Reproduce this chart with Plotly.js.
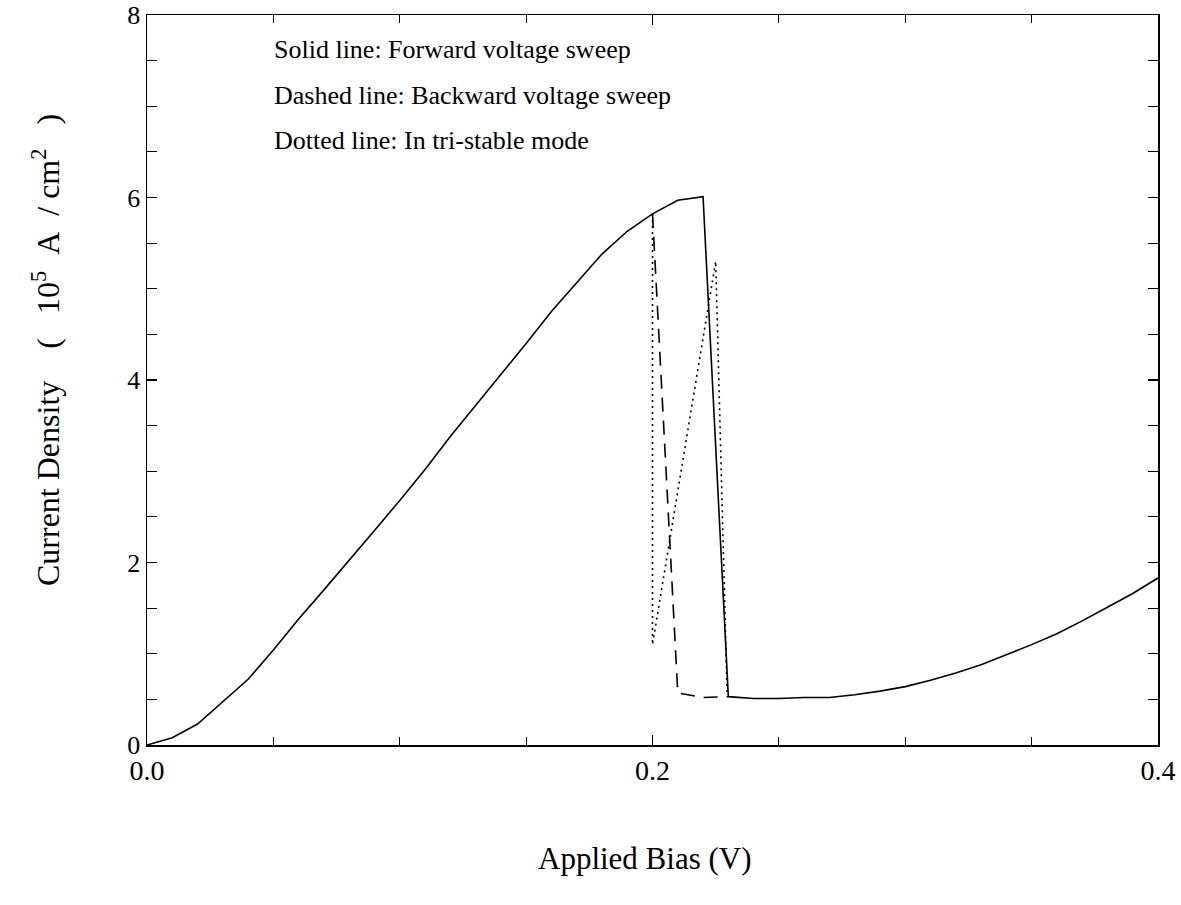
<!DOCTYPE html>
<html>
<head>
<meta charset="utf-8">
<script src="https://cdn.plot.ly/plotly-3.0.1.min.js"></script>
<style>html,body{margin:0;padding:0;background:#fff;}#chart{width:1181px;height:905px;}</style>
</head>
<body>
<div id="chart"></div>
<script>
// Forward voltage sweep (solid)
const forwardBias = [0,0.01,0.02,0.03,0.04,0.05,0.06,0.07,0.08,0.09,0.10,0.11,0.12,0.13,0.14,0.15,0.16,0.17,0.18,0.19,0.20,0.21,0.22,0.23,0.24,0.25,0.26,0.27,0.28,0.29,0.30,0.31,0.32,0.33,0.34,0.35,0.36,0.37,0.38,0.39,0.40];
const forwardJ = [0,0.08,0.23,0.47,0.72,1.04,1.38,1.70,2.02,2.35,2.68,3.02,3.38,3.72,4.05,4.40,4.75,5.07,5.38,5.63,5.82,5.97,6.01,0.53,0.51,0.51,0.52,0.52,0.55,0.59,0.64,0.71,0.79,0.88,0.99,1.10,1.22,1.36,1.51,1.66,1.83];
// Backward voltage sweep (dashed)
const backwardBias = [0.20,0.21,0.22,0.23];
const backwardJ = [5.82,0.57,0.52,0.53];
// Tri-stable mode (dotted)
const tristableBias = [0.20,0.20,0.225,0.2295];
const tristableJ = [5.82,1.10,5.30,0.58];

const xTickVals = [0,0.2,0.4];
const xTickText = ['0.0','0.2','0.4'];
const yTickVals = [0,2,4,6,8];
const yTickText = ['0','2','4','6','8'];

const noteLines = ['Solid line: Forward voltage sweep','Dashed line: Backward voltage sweep','Dotted line: In tri-stable mode'];

const serif = 'Liberation Serif, Times New Roman, serif';
const traces = [
  {x: forwardBias, y: forwardJ, mode: 'lines', line: {color: '#000', width: 1.6}, hoverinfo: 'skip'},
  {x: backwardBias, y: backwardJ, mode: 'lines', line: {color: '#000', width: 1.6, dash: '14px,9px'}, hoverinfo: 'skip'},
  {x: tristableBias, y: tristableJ, mode: 'lines', line: {color: '#000', width: 1.6, dash: '2px,4px'}, hoverinfo: 'skip'}
];

const noteY = [50, 95, 140];
const annotations = noteLines.map((t, i) => ({
  text: t, xref: 'paper', yref: 'paper', x: (272 - 147) / 1011, y: (745 - noteY[i]) / 730,
  xanchor: 'left', yanchor: 'middle', showarrow: false, font: {family: serif, size: 26, color: '#000'}
}));
annotations.push({
  text: 'Applied Bias (V)', xref: 'paper', yref: 'paper', x: (645 - 147) / 1011, y: (745 - 858) / 730,
  xanchor: 'center', yanchor: 'middle', showarrow: false, font: {family: serif, size: 31, color: '#000'}
});
const sp = n => '\u00A0'.repeat(n);
annotations.push({
  text: 'Current Density' + sp(4) + '(' + sp(3) + '10<sup>5</sup>' + sp(2) + 'A' + sp(2) + '/' + sp(1) + 'cm<sup>2</sup>' + sp(3) + ')',
  xref: 'paper', yref: 'paper', x: (46 - 147) / 1011, y: (745 - 350) / 730,
  xanchor: 'center', yanchor: 'middle', textangle: -90, showarrow: false, font: {family: serif, size: 32, color: '#000'}
});

const axisCommon = {
  showgrid: false, zeroline: false, showline: true, linecolor: '#000', linewidth: 1.5,
  mirror: 'ticks', ticks: 'inside', tickcolor: '#000', tickwidth: 1.3
};

const layout = {
  width: 1181, height: 905,
  margin: {l: 147, r: 23, t: 15, b: 160},
  paper_bgcolor: '#fff', plot_bgcolor: '#fff',
  showlegend: false,
  xaxis: Object.assign({}, axisCommon, {
    range: [0, 0.4], tickmode: 'array', tickvals: xTickVals, ticktext: xTickText, ticklen: 10,
    tickfont: {family: serif, size: 28, color: '#000'},
    minor: {dtick: 0.05, tick0: 0, ticks: 'inside', ticklen: 8, tickcolor: '#000', tickwidth: 1.2}
  }),
  yaxis: Object.assign({}, axisCommon, {
    range: [0, 8], tickmode: 'array', tickvals: yTickVals, ticktext: yTickText, ticklen: 10,
    tickfont: {family: serif, size: 26, color: '#000'},
    minor: {dtick: 0.5, tick0: 0, ticks: 'inside', ticklen: 10, tickcolor: '#000', tickwidth: 1.2}
  }),
  annotations: annotations
};

Plotly.newPlot('chart', traces, layout, {staticPlot: true, displayModeBar: false});
</script>
</body>
</html>
